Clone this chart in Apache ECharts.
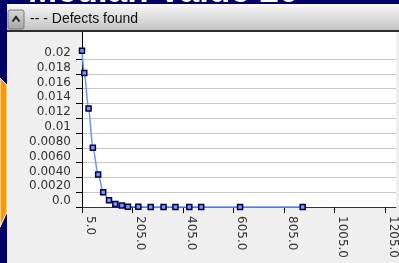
<!DOCTYPE html>
<html>
<head>
<meta charset="utf-8">
<title>Defects found</title>
<script src="https://cdn.jsdelivr.net/npm/echarts@6/dist/echarts.min.js"></script>
<style>
html, body { margin: 0; padding: 0; background: #000066; overflow: hidden; }
#chart { width: 399px; height: 263px; }
</style>
</head>
<body>
<div id="chart"></div>
<script>
// values
const xValues = [5, 14, 31, 48, 69, 89, 112, 137, 163, 187, 228, 277, 328, 375, 430, 477, 631, 879];
const yValues = [0.0211, 0.0181, 0.0133, 0.0080, 0.0044, 0.0020, 0.0009, 0.0004, 0.0002, 0.00004,
  0.00002, 0.00001, 0.00001, 0.00001, 0.00001, 0, 0, 0];

const yTickValues = [0, 0.002, 0.004, 0.006, 0.008, 0.01, 0.012, 0.014, 0.016, 0.018, 0.02];
const yTickLabels = ['0.0', '0.0020', '0.0040', '0.0060', '0.0080', '0.01', '0.012', '0.014', '0.016', '0.018', '0.02'];
const xTickValues = [5, 205, 405, 605, 805, 1005, 1205];
const xTickLabels = ['5.0', '205.0', '405.0', '605.0', '805.0', '1005.0', '1205.0'];

const chartTitle = '-- - Defects found';
const slideTitle = 'Median Value 20';

// nearest tick label for a value
function pickLabel(ticks, labels, v) {
  let best = 0;
  ticks.forEach((t, i) => {
    if (Math.abs(t - v) < Math.abs(ticks[best] - v)) best = i;
  });
  return labels[best];
}

const chart = echarts.init(document.getElementById('chart'));

const labelFont = {
  fontFamily: 'DejaVu Sans',
  fontSize: 12,
  color: '#333'
};

const option = {
  animation: false,
  backgroundColor: '#000066',
  graphic: [
    // grey panel behind the plot
    {
      type: 'rect', z: -1,
      shape: { x: 7, y: 32, width: 392, height: 231 },
      style: { fill: '#efefef' }
    },
    // orange shape on the left edge
    {
      type: 'polygon',
      shape: { points: [[0, 78], [7, 85], [7, 212], [0, 227]] },
      style: { fill: '#ff9900', stroke: '#ffffff', lineWidth: 1 }
    },
    // big slide title, mostly hidden above the window
    {
      type: 'text', x: 28, y: -8,
      style: {
        text: slideTitle,
        fill: '#ffffff',
        font: 'bold 35px "Liberation Sans"',
        verticalAlign: 'middle'
      }
    },
    // header bar
    {
      type: 'rect',
      shape: { x: 7, y: 4, width: 392, height: 26 },
      style: {
        fill: new echarts.graphic.LinearGradient(0, 0, 0, 1, [
          { offset: 0, color: '#f8f8f8' },
          { offset: 1, color: '#c4c4c4' }
        ])
      }
    },
    {
      type: 'rect',
      shape: { x: 7, y: 30, width: 392, height: 2 },
      style: { fill: '#2e2e2e' }
    },
    // collapse button
    {
      type: 'rect',
      shape: { x: 8, y: 10, width: 16, height: 19, r: 2 },
      style: {
        fill: new echarts.graphic.LinearGradient(0, 0, 0, 1, [
          { offset: 0, color: '#d6d6d6' },
          { offset: 1, color: '#a6a6a6' }
        ]),
        stroke: '#7a7a7a',
        lineWidth: 1
      }
    },
    {
      type: 'polyline',
      shape: { points: [[12.5, 21.5], [16, 17], [19.5, 21.5]] },
      style: { stroke: '#222', lineWidth: 2, fill: null }
    },
    {
      type: 'text', x: 30, y: 19,
      style: {
        text: chartTitle,
        fill: '#111',
        font: '14px "Liberation Sans"',
        verticalAlign: 'middle'
      }
    }
  ],
  grid: {
    left: 82,
    top: 32,
    right: 0,
    bottom: 56,
    show: true,
    backgroundColor: '#ffffff',
    borderWidth: 0
  },
  xAxis: {
    type: 'value',
    min: 5,
    max: 1248,
    axisLine: { show: true, onZero: false, lineStyle: { color: '#333', width: 1 } },
    axisTick: { show: true, customValues: xTickValues, length: 6, lineStyle: { color: '#000' } },
    axisLabel: {
      customValues: xTickValues,
      rotate: -90,
      margin: 9,
      verticalAlign: 'bottom',
      padding: [0, 0, 2, 0],
      formatter: v => pickLabel(xTickValues, xTickLabels, v),
      ...labelFont
    },
    splitLine: { show: false }
  },
  yAxis: {
    type: 'value',
    min: 0,
    max: 0.02364,
    axisLine: { show: true, onZero: false, lineStyle: { color: '#000', width: 1 } },
    axisTick: { show: true, customValues: yTickValues, length: 6, lineStyle: { color: '#000' } },
    axisLabel: {
      customValues: yTickValues,
      margin: 11,
      verticalAlign: 'bottom',
      formatter: v => pickLabel(yTickValues, yTickLabels, v),
      ...labelFont
    },
    splitLine: { show: true, lineStyle: { color: '#c8c8c8', width: 1 } }
  },
  series: [{
    type: 'line',
    data: xValues.map((x, i) => [x, yValues[i]]),
    smooth: 0.3,
    smoothMonotone: 'x',
    symbol: 'rect',
    symbolSize: 5,
    clip: false,
    lineStyle: { color: '#6f8fff', width: 1.5 },
    itemStyle: { color: '#7896ff', borderColor: '#000040', borderWidth: 1.5 }
  }]
};

chart.setOption(option);
</script>
</body>
</html>
